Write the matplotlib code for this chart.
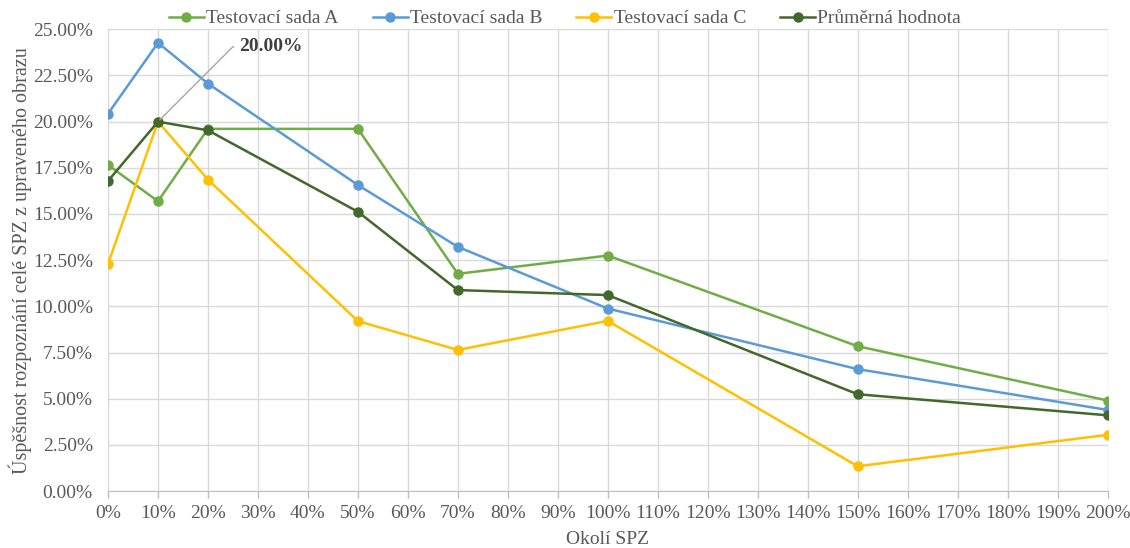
import matplotlib
matplotlib.use("Agg")
import matplotlib.pyplot as plt
from matplotlib.ticker import FuncFormatter, MultipleLocator

plt.rcParams['font.family'] = ['Liberation Serif', 'DejaVu Serif']

# Neighbourhood size around the licence plate (percent)
okoli = [0, 10, 20, 50, 70, 100, 150, 200]

# Recognition success rate (percent) for each test set
sada_a = [17.65, 15.69, 19.61, 19.61, 11.76, 12.75, 7.84, 4.90]
sada_b = [20.43, 24.27, 22.06, 16.57, 13.22, 9.88, 6.60, 4.39]
sada_c = [12.30, 20.00, 16.86, 9.20, 7.64, 9.21, 1.34, 3.04]
prumer = [16.79, 20.00, 19.53, 15.12, 10.88, 10.61, 5.24, 4.10]

nazvy = ["Testovací sada A", "Testovací sada B", "Testovací sada C", "Průměrná hodnota"]
barvy = ["#70AD47", "#5B9BD5", "#FFC000", "#43682B"]

text_color = "#595959"
grid_color = "#D9D9D9"
axis_color = "#BFBFBF"
fs = 14

fig = plt.figure(figsize=(11.3, 5.48), dpi=100)
ax = fig.add_axes([0.0956, 0.104, 0.8845, 0.8425])

for vals, name, col in zip([sada_a, sada_b, sada_c, prumer], nazvy, barvy):
    ax.plot(okoli, vals, color=col, lw=1.8, marker='o', ms=6.5,
            label=name, zorder=3)

ax.set_xlim(0, 200)
ax.set_ylim(0, 25)
ax.xaxis.set_major_locator(MultipleLocator(10))
ax.yaxis.set_major_locator(MultipleLocator(2.5))
ax.xaxis.set_major_formatter(FuncFormatter(lambda v, p: f"{v:.0f}%"))
ax.yaxis.set_major_formatter(FuncFormatter(lambda v, p: f"{v:.2f}%"))

ax.grid(True, color=grid_color, lw=1.0, zorder=0)
for s in ['top', 'right']:
    ax.spines[s].set_visible(False)
ax.spines['left'].set_color(grid_color)
ax.spines['bottom'].set_color(axis_color)
ax.tick_params(axis='x', colors=axis_color, length=5, width=1,
               labelcolor=text_color, labelsize=fs, pad=5)
ax.tick_params(axis='y', length=0, labelcolor=text_color, labelsize=fs, pad=11)

ax.set_xlabel("Okolí SPZ", color=text_color, fontsize=fs, labelpad=6.5)
ax.set_ylabel("Úspěšnost rozpoznání celé SPZ z upraveného obrazu",
              color=text_color, fontsize=fs + 0.5, labelpad=0.5)

# Data label for the peak of the average series
ax.annotate(f"{prumer[1]:.2f}%", xy=(okoli[1], prumer[1]),
            xytext=(26.3, 24.05), fontsize=fs, fontweight='bold',
            color="#404040", va='center', ha='left',
            arrowprops=dict(arrowstyle='-', color="#A6A6A6", lw=1.0,
                            relpos=(0, 0.5),
                            connectionstyle="angle,angleA=0,angleB=45,rad=0"),
            zorder=4)

leg = fig.legend(loc='center', bbox_to_anchor=(0.5, 0.966), ncol=4,
                 frameon=False, fontsize=fs, handlelength=1.8,
                 handletextpad=0.12, columnspacing=1.75, labelcolor=text_color)

fig.savefig("out.png", dpi=100)
